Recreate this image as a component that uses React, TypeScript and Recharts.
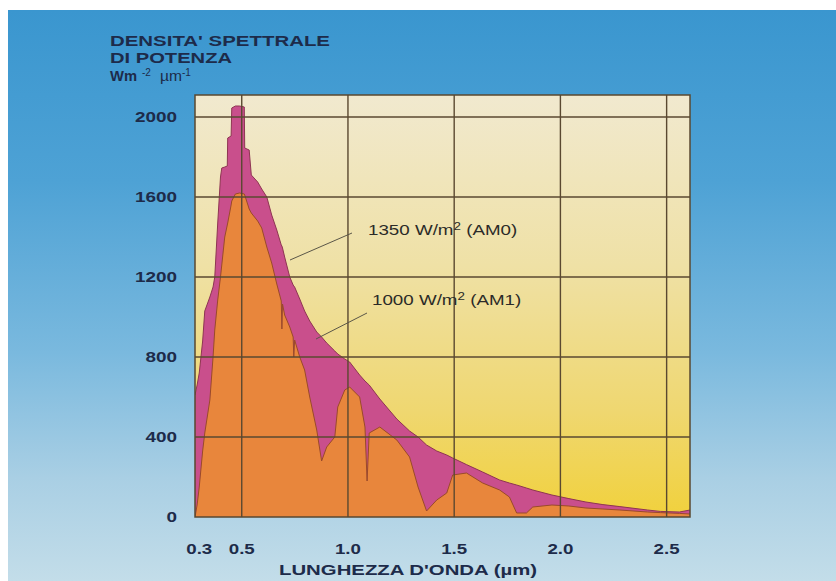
import {
  Area,
  AreaChart,
  CartesianGrid,
  ReferenceArea,
  ReferenceLine,
  XAxis,
  YAxis,
} from "recharts";

// wavelength in micrometres
const wavelengths = [
  0.28, 0.29, 0.3, 0.316, 0.326, 0.35, 0.365, 0.373, 0.387, 0.4, 0.406, 0.42,
  0.432, 0.434, 0.45, 0.453, 0.47, 0.49, 0.512, 0.514, 0.535, 0.545, 0.575,
  0.594, 0.618, 0.641, 0.665, 0.686, 0.689, 0.692, 0.702, 0.726, 0.742, 0.745,
  0.749, 0.773, 0.796, 0.82, 0.853, 0.876, 0.9, 0.938, 0.952, 0.985, 1.008,
  1.055, 1.08, 1.09, 1.1, 1.15, 1.23, 1.29, 1.33, 1.37, 1.418, 1.465, 1.493,
  1.558, 1.634, 1.714, 1.76, 1.794, 1.84, 1.87, 1.96, 2.04, 2.12, 2.2, 2.28,
  2.41, 2.47, 2.56, 2.61,
];

// 1350 W/m2 (AM0), W m-2 um-1
const am0 = [
  610, 660, 720, 880, 1030, 1100, 1150, 1200, 1470, 1700, 1745, 1750, 1755,
  1895, 1905, 2045, 2055, 2055, 2050, 1845, 1835, 1710, 1675, 1640, 1600, 1510,
  1435, 1360, 1355, 1345, 1300, 1200, 1160, 1155, 1150, 1090, 1030, 980, 925,
  900, 870, 830, 815, 790, 775, 710, 680, 670, 660, 590, 490, 430, 400, 360,
  330, 310, 295, 262, 225, 185, 170, 160, 145, 135, 110, 92, 75, 62, 52, 35, 28,
  25, 35,
];

// 1000 W/m2 (AM1)
const am1 = [
  0, 60, 150, 330, 420, 585, 800, 935, 1085, 1200, 1260, 1400, 1460, 1470, 1560,
  1580, 1615, 1620, 1615, 1610, 1540, 1520, 1480, 1445, 1350, 1270, 1165, 1080,
  940, 1065, 1010, 950, 900, 800, 885, 800, 735, 600, 435, 280, 350, 400, 550,
  635, 650, 600, 450, 180, 420, 450, 385, 300, 150, 30, 85, 120, 210, 220, 170,
  135, 100, 20, 20, 50, 60, 55, 45, 40, 35, 25, 22, 18, 15,
];

const xTicks = [0.3, 0.5, 1.0, 1.5, 2.0, 2.5];
const xGrid = [0.5, 1.0, 1.5, 2.0, 2.5];
const yTicks = [0, 400, 800, 1200, 1600, 2000];
const yGrid = [400, 800, 1200, 1600, 2000];

const data = wavelengths.map((w, i) => ({ w, am0: am0[i], am1: am1[i] }));

const FONT = "'Liberation Sans', Arial, Helvetica, sans-serif";
const INK = "#1d2b4a";
const GRID = "#5a4830";

function YTick(props: any) {
  const { x, y, payload } = props;
  const label = String(payload.value);
  return (
    <text
      x={x}
      y={y}
      dy="0.36em"
      textAnchor="end"
      fontFamily={FONT}
      fontSize={15}
      fontWeight="bold"
      fill={INK}
      textLength={label.length * 10.5}
      lengthAdjust="spacingAndGlyphs"
    >
      {label}
    </text>
  );
}

function XTick(props: any) {
  const { x, y, payload } = props;
  const label = Number(payload.value).toFixed(1);
  return (
    <text
      x={x}
      y={y}
      dy="0.71em"
      textAnchor="middle"
      fontFamily={FONT}
      fontSize={15}
      fontWeight="bold"
      fill={INK}
      textLength={26}
      lengthAdjust="spacingAndGlyphs"
    >
      {label}
    </text>
  );
}

export default function App() {
  return (
    <div
      style={{
        position: "absolute",
        left: 8,
        top: 10,
        width: 828,
        height: 571,
        overflow: "hidden",
        background:
          "linear-gradient(180deg, #3a96cf 0%, #4ea2d5 30%, #7ab9de 60%, #a9cfe4 82%, #c3dde9 100%)",
      }}
    >
      <AreaChart
        width={828}
        height={571}
        data={data}
        margin={{ top: 85, right: 146, bottom: 24, left: 127 }}
      >
        <defs>
          <linearGradient id="plotBg" x1="0" y1="0" x2="0" y2="1">
            <stop offset="0%" stopColor="#f1e9cf" />
            <stop offset="40%" stopColor="#efe1a6" />
            <stop offset="75%" stopColor="#efd770" />
            <stop offset="100%" stopColor="#f1d13c" />
          </linearGradient>
        </defs>
        <CartesianGrid
          horizontal={false}
          vertical={false}
          fill="url(#plotBg)"
          fillOpacity={1}
        />
        <XAxis
          dataKey="w"
          type="number"
          domain={[0.28, 2.61]}
          ticks={xTicks}
          allowDataOverflow
          axisLine={false}
          tickLine={false}
          tickSize={0}
          tickMargin={26}
          height={40}
          tick={<XTick />}
        />
        <YAxis
          type="number"
          domain={[0, 2110]}
          ticks={yTicks}
          allowDataOverflow
          axisLine={false}
          tickLine={false}
          tickSize={0}
          tickMargin={18}
          width={60}
          tick={<YTick />}
        />
        <Area
          type="linear"
          dataKey="am0"
          stroke="#8e3552"
          strokeWidth={1}
          fill="#c94f8c"
          fillOpacity={1}
          dot={false}
          activeDot={false}
          isAnimationActive={false}
        />
        <Area
          type="linear"
          dataKey="am1"
          stroke="#9a4a2a"
          strokeWidth={1}
          fill="#e8863c"
          fillOpacity={1}
          dot={false}
          activeDot={false}
          isAnimationActive={false}
        />
        {yGrid.map((v) => (
          <ReferenceLine key={`y${v}`} y={v} stroke={GRID} strokeWidth={1.4} />
        ))}
        {xGrid.map((v) => (
          <ReferenceLine key={`x${v}`} x={v} stroke={GRID} strokeWidth={1.4} />
        ))}
        <ReferenceArea
          x1={0.28}
          x2={2.61}
          y1={0}
          y2={2110}
          fill="none"
          stroke={GRID}
          strokeWidth={1.5}
        />
      </AreaChart>

      <svg
        width={828}
        height={571}
        style={{ position: "absolute", left: 0, top: 0, pointerEvents: "none" }}
      >
        <g fontFamily={FONT} fill={INK}>
          <text
            x={102}
            y={36}
            fontSize={14.5}
            fontWeight="bold"
            textLength={220}
            lengthAdjust="spacingAndGlyphs"
          >
            DENSITA' SPETTRALE
          </text>
          <text
            x={102}
            y={53}
            fontSize={14.5}
            fontWeight="bold"
            textLength={122}
            lengthAdjust="spacingAndGlyphs"
          >
            DI POTENZA
          </text>
          <text
            x={102}
            y={71}
            fontSize={14.5}
            fontWeight="bold"
            textLength={27}
            lengthAdjust="spacingAndGlyphs"
          >
            Wm
          </text>
          <text x={134} y={66} fontSize={10}>
            -2
          </text>
          <text
            x={152}
            y={71}
            fontSize={14.5}
            textLength={22}
            lengthAdjust="spacingAndGlyphs"
          >
            µm
          </text>
          <text x={174} y={66} fontSize={10}>
            -1
          </text>
          <text
            x={271}
            y={565}
            fontSize={14.5}
            fontWeight="bold"
            textLength={258}
            lengthAdjust="spacingAndGlyphs"
          >
            LUNGHEZZA D'ONDA (µm)
          </text>
        </g>

        <line x1={344} y1={223} x2={282} y2={250} stroke="#5a5648" strokeWidth={1} />
        <line x1={359} y1={303} x2={308} y2={329} stroke="#5a5648" strokeWidth={1} />

        <g
          transform="translate(360,225) scale(1.34,1)"
          fontFamily={FONT}
          fill="#2b2b28"
          fontSize={14}
        >
          <text x={0} y={0}>
            1350 W/m
            <tspan fontSize={10} dy={-5}>
              2
            </tspan>
            <tspan dy={5}> (AM0)</tspan>
          </text>
        </g>
        <g
          transform="translate(364,295) scale(1.34,1)"
          fontFamily={FONT}
          fill="#2b2b28"
          fontSize={14}
        >
          <text x={0} y={0}>
            1000 W/m
            <tspan fontSize={10} dy={-5}>
              2
            </tspan>
            <tspan dy={5}> (AM1)</tspan>
          </text>
        </g>
      </svg>
    </div>
  );
}
